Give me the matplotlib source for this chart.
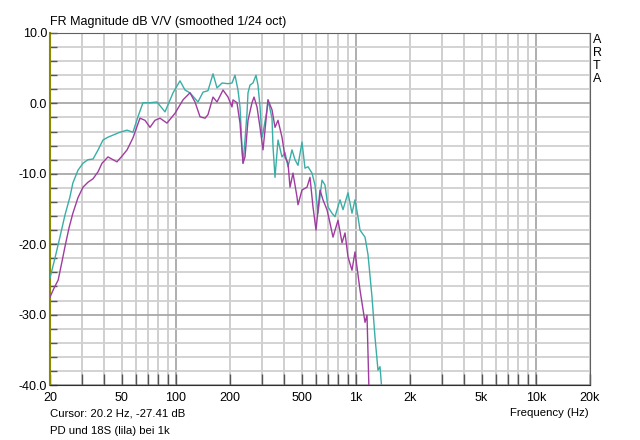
import matplotlib
matplotlib.use('Agg')
import matplotlib.pyplot as plt
import numpy as np

plt.rcParams['font.family'] = ['Liberation Sans', 'DejaVu Sans']

# teal curve (PD)
teal_freq = [20, 21.3, 22.7, 24.2, 25.8, 26.8, 28.6, 30.5, 32.5, 34.7, 37.0, 39.4, 42.0, 44.8,
             48.9, 53.6, 57.8, 61.6, 65.7, 71.9, 78.6, 87.1, 96.5, 105.5, 112.5, 119.9, 132.8,
             141.6, 150.9, 160.9, 169.4, 180.6, 195.0, 205.2, 213.2, 221.5, 227.3, 233.2, 236.2,
             242.3, 248.6, 251.8, 258.3, 268.4, 278.9, 286.1, 293.6, 301.2, 305.1, 321.1, 325.2,
             342.3, 346.8, 355.7, 364.8, 369.6, 388.9, 404.2, 420.1, 442.1, 459.4, 477.3, 502.4,
             522.0, 542.5, 570.9, 593.3, 616.5, 648.7, 674.1, 700.5, 737.4, 766.2, 816.8, 848.8,
             904.8, 952.3, 989.6, 1028, 1055, 1125, 1169, 1230, 1278, 1328, 1363, 1398]
teal_db = [-24.8, -22.0, -19.0, -15.9, -13.3, -11.3, -9.5, -8.5, -8.0, -7.9, -6.6, -5.2, -4.8, -4.5,
           -4.1, -3.8, -4.1, -1.9, 0.1, 0.1, 0.2, -1.2, 1.5, 3.2, 1.9, 1.5, 0.2,
           1.6, 1.8, 4.2, 2.2, 2.9, 2.8, 2.9, 4.0, 1.9, -0.5, -6.2, -8.5,
           -5.2, -1.4, 1.5, 2.6, 2.9, 4.0, 2.6, -0.5, -4.8, -4.2, -0.9, 0.5,
           -2.1, -6.2, -10.5, -7.0, -5.2, -7.6, -7.0, -9.0, -6.6, -8.0, -8.8, -5.5,
           -9.2, -9.0, -9.9, -11.6, -15.6, -10.9, -11.6, -14.7, -15.6, -16.1, -13.7, -15.1,
           -12.7, -15.6, -13.7, -16.1, -18.0, -19.0, -21.5, -27.5, -33.2, -37.9, -37.4, -41.0]

# purple curve (18S, lila)
lila_freq = [20, 21.1, 22.2, 23.3, 24.2, 25.5, 26.8, 28.6, 30.5, 32.5, 34.7, 37.0, 38.9, 42.0,
             44.8, 47.1, 50.2, 53.6, 57.8, 63.2, 67.4, 71.9, 76.6, 81.7, 89.3, 99.0, 109.6,
             119.9, 127.8, 136.3, 145.3, 150.9, 160.9, 169.4, 182.9, 195.0, 205.2, 207.8, 218.7,
             227.3, 236.2, 242.3, 251.8, 265.0, 271.9, 282.5, 293.6, 305.1, 321.1, 325.2, 342.3,
             355.7, 369.6, 388.9, 404.2, 420.1, 430.9, 447.7, 471.3, 477.3, 502.4, 535.7, 556.5,
             578.2, 601.0, 632.5, 657.0, 691.7, 718.8, 746.9, 796.2, 838.2, 870.9, 904.8, 952.3,
             989.6, 1055, 1125, 1154, 1184]
lila_db = [-27.5, -26.2, -25.1, -22.5, -20.4, -17.7, -15.6, -13.4, -11.9, -11.2, -10.7, -9.7, -8.5, -7.6,
           -8.0, -8.3, -7.5, -6.6, -4.9, -2.1, -2.4, -3.4, -2.4, -2.1, -2.8, -1.4, 0.5,
           1.5, 0.2, -1.9, -2.1, -1.6, 0.9, 0.2, 1.9, 0.9, -0.5, 0.5, 0.1,
           -2.8, -8.5, -7.6, -2.4, 0.1, 0.9, -0.5, -3.4, -6.6, -0.9, 0.5, -0.9,
           -3.4, -2.4, -4.8, -7.6, -8.5, -11.9, -9.9, -13.3, -14.4, -12.3, -11.9, -10.5,
           -14.7, -18.0, -12.3, -13.7, -15.1, -17.0, -19.0, -16.6, -19.8, -18.4, -21.8, -23.7,
           -21.1, -26.5, -31.1, -30.1, -41.0]

major_x = [20, 50, 100, 200, 500, 1000, 2000, 5000, 10000, 20000]
major_x_labels = ['20', '50', '100', '200', '500', '1k', '2k', '5k', '10k', '20k']

fig = plt.figure(figsize=(6.4, 4.4), dpi=100)
ax = fig.add_axes([50 / 640, 55 / 440, 540 / 640, 352 / 440])

# grid
grid_f = [m * d for d in (10, 100, 1000, 10000) for m in range(1, 10) if 20 <= m * d <= 20000]
for f in grid_f:
    dec = f in (100, 1000, 10000)
    ax.axvline(f, color='#a8a8a8' if dec else '#cccccc', lw=1.3, zorder=0)
for v in range(-40, 11, 2):
    ax.axhline(v, color='#a8a8a8' if v % 10 == 0 else '#d0d0d0', lw=1.3, zorder=0)

ax.plot(teal_freq, teal_db, color='#3aaea6', lw=1.0, zorder=3)
ax.plot(lila_freq, lila_db, color='#a03ca0', lw=1.0, zorder=4)

ax.set_xscale('log')
ax.set_xlim(20, 20000)
ax.set_ylim(-40, 10)

ax.set_xticks(major_x)
ax.set_xticklabels(major_x_labels)
ax.set_xticks([f for f in grid_f if f not in major_x], minor=True)
ax.xaxis.set_minor_formatter(matplotlib.ticker.NullFormatter())
ax.set_yticks(np.arange(-40, 11, 10))
ax.set_yticklabels([f'{v:.1f}' for v in np.arange(-40, 11, 10)])
ax.set_yticks(np.arange(-40, 11, 2), minor=True)

ax.tick_params(axis='x', which='both', direction='in', length=8, width=1, color='#555555',
               labelsize=9, pad=5)
ax.tick_params(axis='y', which='both', direction='in', length=5, width=1, color='#555555',
               labelsize=9, pad=2)

ax.spines['left'].set_color('#8a8a00')
ax.spines['left'].set_linewidth(1.5)
for s in ('top', 'right'):
    ax.spines[s].set_color('#606060')
ax.spines['bottom'].set_color('#303030')

fig.text(50 / 640, 1 - 22 / 440, 'FR Magnitude dB V/V (smoothed 1/24 oct)', fontsize=9,
         ha='left', va='center')
fig.text(50 / 640, 1 - 413 / 440, 'Cursor: 20.2 Hz, -27.41 dB', fontsize=8.2, ha='left', va='center')
fig.text(50 / 640, 1 - 431 / 440, 'PD und 18S (lila) bei 1k', fontsize=8.2, ha='left', va='center')
fig.text(589 / 640, 1 - 413 / 440, 'Frequency (Hz)', fontsize=8.2, ha='right', va='center')
for i, ch in enumerate('ARTA'):
    fig.text(593 / 640, 1 - (40 + i * 13) / 440, ch, fontsize=9, ha='left', va='center')

fig.savefig('out.png', dpi=100)
